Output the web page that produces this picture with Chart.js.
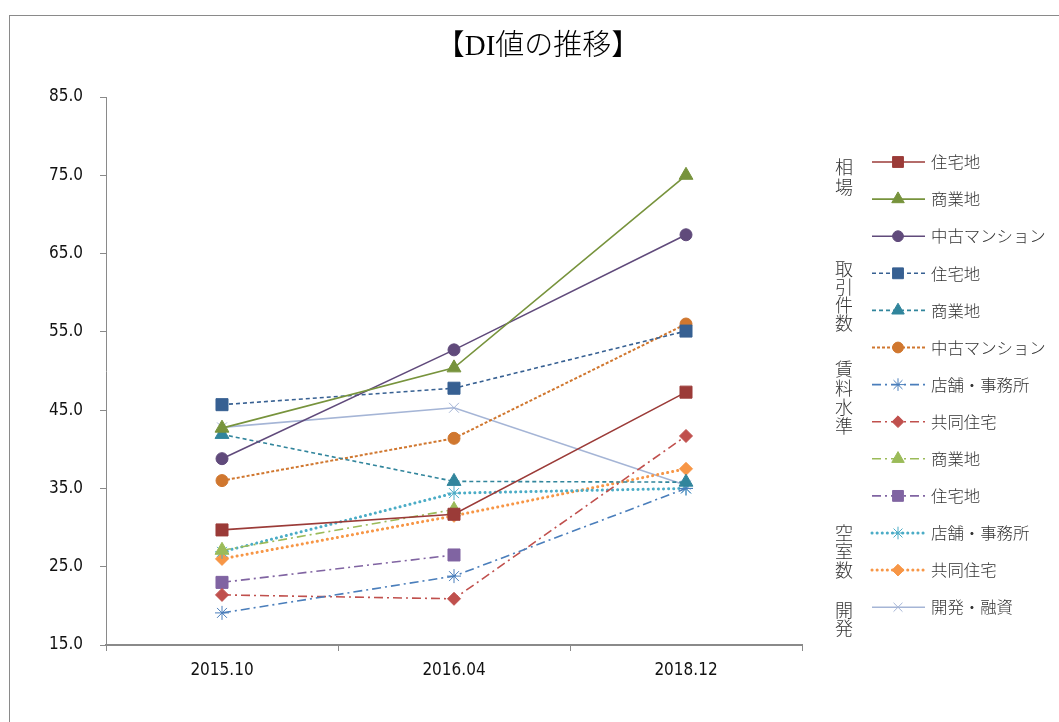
<!DOCTYPE html>
<html>
<head>
<meta charset="utf-8">
<script src="https://cdn.jsdelivr.net/npm/chart.js@4/dist/chart.umd.min.js"></script>
<style>
  html, body { margin: 0; padding: 0; background: #fff; }
  canvas { display: block; }
</style>
</head>
<body>
<canvas id="diChart" width="1059" height="722"></canvas>
<script>
// data
const categories = ['2015.10', '2016.04', '2018.12'];

const souba_jutaku    = [29.7, 31.7, 47.3];
const souba_shogyo    = [42.7, 50.4, 75.0];
const souba_mansion   = [38.8, 52.7, 67.4];
const torihiki_jutaku  = [45.7, 47.8, 55.1];
const torihiki_shogyo  = [41.9, 35.9, 35.8];
const torihiki_mansion = [36.0, 41.4, 56.0];
const chinryo_tenpo    = [19.1, 23.8, 35.0];
const chinryo_kyodo    = [21.4, 20.9, 41.7];
const chinryo_shogyo   = [27.1, 32.3, null];
const chinryo_jutaku   = [23.0, 26.5, null];
const kushitsu_tenpo   = [26.9, 34.4, 35.0];
const kushitsu_kyodo   = [26.0, 31.5, 37.5];
const kaihatsu_yushi   = [42.8, 45.3, 35.4];

const groupLabels = ['相場', '取引件数', '賃料水準', '空室数', '開発'];
const yTicks = { min: 15, max: 85, step: 10 };

const SOLID = [];
const DASH = [4, 3];
const DASHDOT = [9, 4, 2, 4];
const DOT = [0.1, 5];

function series(label, data, color, dash, width, style, radius, cap) {
  return {
    label, data,
    borderColor: color,
    backgroundColor: color,
    borderWidth: width,
    borderDash: dash,
    borderCapStyle: cap || 'butt',
    pointStyle: style,
    pointRadius: radius,
    pointHoverRadius: radius,
    pointBorderWidth: 1,
    pointBorderColor: color,
    pointBackgroundColor: color,
    tension: 0,
    fill: false
  };
}

const datasets = [
  series('住宅地', souba_jutaku, '#9B3B38', SOLID, 1.6, 'rect', 8.5),
  series('商業地', souba_shogyo, '#77933C', SOLID, 1.6, 'triangle', 8),
  series('中古マンション', souba_mansion, '#604A7B', SOLID, 1.6, 'circle', 6),
  series('住宅地', torihiki_jutaku, '#376092', DASH, 1.6, 'rect', 8.5),
  series('商業地', torihiki_shogyo, '#31859C', DASH, 1.6, 'triangle', 8),
  series('中古マンション', torihiki_mansion, '#D0772F', [3, 2], 2, 'circle', 6),
  series('店舗・事務所', chinryo_tenpo, '#4A7EBB', DASHDOT, 1.6, 'star', 7),
  series('共同住宅', chinryo_kyodo, '#C0504D', DASHDOT, 1.6, 'rectRot', 6.5),
  series('商業地', chinryo_shogyo, '#9BBB59', DASHDOT, 1.6, 'triangle', 8),
  series('住宅地', chinryo_jutaku, '#8064A2', DASHDOT, 1.6, 'rect', 8.5),
  series('店舗・事務所', kushitsu_tenpo, '#4BACC6', DOT, 3, 'star', 7, 'round'),
  series('共同住宅', kushitsu_kyodo, '#F79646', DOT, 3, 'rectRot', 6.5, 'round'),
  series('開発・融資', kaihatsu_yushi, '#A5B5D6', SOLID, 1.6, 'crossRot', 7)
];

const jpFont = '"Noto Sans CJK JP", "Noto Sans", sans-serif';
const numFont = '"Liberation Sans Narrow", "DejaVu Sans Condensed", "Liberation Sans", sans-serif';

// frame, title, grouped legend
const decorations = {
  id: 'decorations',
  beforeDraw(chart) {
    const ctx = chart.ctx;
    ctx.save();
    ctx.fillStyle = '#fff';
    ctx.fillRect(0, 0, chart.width, chart.height);
    ctx.strokeStyle = '#8a8a8a';
    ctx.lineWidth = 1;
    ctx.strokeRect(9.5, 15.5, chart.width + 20, chart.height + 20);
    ctx.restore();
  },
  afterDraw(chart) {
    const ctx = chart.ctx;
    ctx.save();
    // title
    ctx.fillStyle = '#000';
    ctx.font = '300 29px "Liberation Serif", "Noto Sans CJK JP", serif';
    ctx.textAlign = 'center';
    ctx.textBaseline = 'middle';
    ctx.fillText('【DI値の推移】', 538, 47);

    // legend rows
    const rowY0 = 162, rowGap = 37.1;
    chart.data.datasets.forEach((ds, i) => {
      const y = rowY0 + i * rowGap;
      ctx.strokeStyle = ds.borderColor;
      ctx.lineWidth = ds.borderWidth;
      ctx.lineCap = ds.borderCapStyle;
      ctx.setLineDash(ds.borderDash);
      ctx.beginPath();
      ctx.moveTo(872, y);
      ctx.lineTo(925, y);
      ctx.stroke();
      ctx.setLineDash([]);
      ctx.lineCap = 'butt';
      ctx.fillStyle = ds.backgroundColor;
      ctx.strokeStyle = ds.borderColor;
      ctx.lineWidth = 1;
      Chart.helpers.drawPoint(ctx, {
        pointStyle: ds.pointStyle,
        radius: ds.pointRadius * 0.9,
        rotation: 0,
        borderWidth: 1
      }, 898, y);
      ctx.fillStyle = '#333';
      ctx.font = '300 16.4px ' + jpFont;
      ctx.textAlign = 'left';
      ctx.textBaseline = 'middle';
      ctx.fillText(ds.label, 931, y);
    });

    // vertical group labels
    const groupTops = [167, 269, 369, 533, 610];
    const groupGaps = [20, 18, 19, 18.5, 18];
    ctx.fillStyle = '#333';
    ctx.font = '300 18px ' + jpFont;
    ctx.textAlign = 'center';
    groupLabels.forEach((g, gi) => {
      [...g].forEach((ch, ci) => {
        ctx.fillText(ch, 844, groupTops[gi] + ci * groupGaps[gi]);
      });
    });
    ctx.restore();
  }
};

new Chart(document.getElementById('diChart').getContext('2d'), {
  type: 'line',
  data: { labels: categories, datasets },
  options: {
    responsive: false,
    animation: false,
    layout: { padding: { left: 9, right: 257, top: 97, bottom: 0 } },
    plugins: {
      legend: { display: false },
      title: { display: false },
      tooltip: { enabled: false }
    },
    scales: {
      x: {
        offset: true,
        afterFit: scale => { scale.height = 77; },
        grid: {
          offset: true,
          drawOnChartArea: false,
          drawTicks: true,
          tickLength: 6,
          color: '#8a8a8a'
        },
        border: { color: '#8a8a8a', width: 2 },
        ticks: {
          color: '#111',
          padding: 9,
          font: { family: numFont, size: 17 },
          maxRotation: 0
        }
      },
      y: {
        min: yTicks.min,
        max: yTicks.max,
        afterFit: scale => { scale.width = 97; },
        grid: {
          drawOnChartArea: false,
          drawTicks: true,
          tickLength: 6,
          color: '#8a8a8a'
        },
        border: { color: '#8a8a8a', width: 1 },
        ticks: {
          stepSize: yTicks.step,
          color: '#111',
          padding: 17,
          font: { family: numFont, size: 17 },
          callback: v => Number(v).toFixed(1)
        }
      }
    }
  },
  plugins: [decorations]
});
</script>
</body>
</html>
